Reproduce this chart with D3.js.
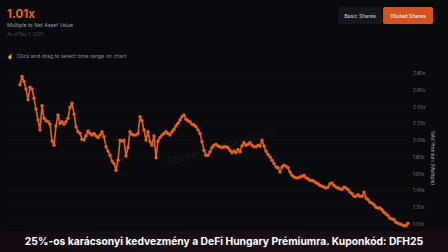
<!DOCTYPE html>
<html>
<head>
<meta charset="utf-8">
<script src="https://cdn.jsdelivr.net/npm/d3@7"></script>
<style>
  html, body { margin: 0; padding: 0; background: #0a0a0e; }
  svg { display: block; font-family: Inter, "Open Sans", sans-serif; }
</style>
</head>
<body>
<svg id="chart" width="448" height="252"></svg>
<script>
const width = 448;
const height = 252;

// NAV multiple, one point per step
const navMultiple = [
  2.66, 2.76, 2.70, 2.61, 2.48, 2.63, 2.61, 2.50, 2.37, 2.24,
  2.12, 2.41, 2.26, 2.23, 2.22, 2.19, 1.99, 1.94, 2.17, 2.30,
  2.20, 2.22, 2.19, 2.22, 2.26, 2.39, 2.44, 2.31, 2.16, 2.10,
  2.08, 2.01, 2.00, 2.05, 2.11, 2.08, 2.06, 2.08, 2.05, 2.03,
  2.06, 2.10, 2.04, 1.92, 1.87, 1.82, 1.75, 1.72, 1.64, 1.76,
  2.00, 1.99, 2.00, 1.81, 1.91, 2.10, 2.07, 2.06, 2.06, 2.08,
  2.28, 2.23, 2.12, 2.00, 2.10, 1.98, 1.94, 2.05, 1.79, 1.99,
  2.03, 2.06, 2.08, 2.10, 2.08, 2.06, 2.10, 2.13, 2.17, 2.20,
  2.24, 2.28, 2.30, 2.25, 2.23, 2.22, 2.19, 2.18, 2.16, 2.12,
  2.08, 1.98, 1.88, 1.82, 1.82, 1.86, 1.91, 1.94, 1.95, 1.93,
  1.92, 1.91, 1.92, 1.92, 1.91, 1.88, 1.85, 1.87, 1.85, 1.89,
  1.86, 1.93, 1.97, 1.94, 1.95, 1.97, 1.94, 1.92, 1.92, 1.94,
  1.93, 2.00, 1.93, 1.87, 1.83, 1.80, 1.76, 1.72, 1.68, 1.67,
  1.62, 1.68, 1.70, 1.69, 1.67, 1.62, 1.58, 1.56, 1.55, 1.55,
  1.56, 1.57, 1.58, 1.55, 1.54, 1.52, 1.52, 1.51, 1.49, 1.48,
  1.46, 1.45, 1.44, 1.43, 1.44, 1.48, 1.49, 1.46, 1.44, 1.43,
  1.42, 1.41, 1.44, 1.43, 1.41, 1.38, 1.36, 1.33, 1.33, 1.35,
  1.33, 1.33, 1.38, 1.31, 1.29, 1.26, 1.25, 1.23, 1.20, 1.19,
  1.19, 1.17, 1.14, 1.12, 1.10, 1.07, 1.06, 1.05, 1.02, 1.01,
  1.00, 0.99, 0.98, 0.98, 1.01
];

const yTicks = [1.0, 1.2, 1.4, 1.6, 1.8, 2.0, 2.2, 2.4, 2.6, 2.8];

const orange = "#e4621f";

const svg = d3.select("#chart");

svg.append("rect").attr("width", width).attr("height", height).attr("fill", "#0a0a0e");

const xScale = d3
  .scaleLinear()
  .domain([0, navMultiple.length - 1])
  .range([20, 408]);

const yScale = d3.scaleLinear().domain([1.0, 2.8]).range([224, 73]);

// faint grid
svg
  .append("g")
  .selectAll("line")
  .data(yTicks)
  .enter()
  .append("line")
  .attr("x1", 6)
  .attr("x2", 410)
  .attr("y1", (d) => yScale(d))
  .attr("y2", (d) => yScale(d))
  .attr("stroke", "#14141a")
  .attr("stroke-width", 0.5);

// watermark
svg
  .append("text")
  .attr("transform", "translate(222,150) rotate(-17)")
  .attr("text-anchor", "middle")
  .attr("font-size", 11.5)
  .attr("fill", "#ffffff")
  .attr("fill-opacity", 0.07)
  .text("StrategyTracker.com");

// header
svg.append("text").attr("x", 7).attr("y", 17.5).attr("font-size", 11.5)
  .attr("font-weight", 700).attr("fill", orange).text("1.01x");
svg.append("text").attr("x", 7).attr("y", 27).attr("font-size", 5.2)
  .attr("fill", "#9a9aa2").text("Multiple to Net Asset Value");
svg.append("text").attr("x", 7).attr("y", 35.5).attr("font-size", 4.4)
  .attr("fill", "#55555c").text("As of Dec 1, 2025");
svg.append("text").attr("x", 7).attr("y", 57.5).attr("font-size", 5)
  .attr("fill", "#8a8a92").text("\u261D");
svg.append("text").attr("x", 17).attr("y", 57.5).attr("font-size", 5.3)
  .attr("fill", "#8a8a92").text("Click and drag to select time range on chart");

// buttons
svg.append("rect").attr("x", 338).attr("y", 7).attr("width", 44).attr("height", 17)
  .attr("rx", 2).attr("fill", "#15151b");
svg.append("text").attr("x", 360).attr("y", 17.5).attr("text-anchor", "middle")
  .attr("font-size", 5.2).attr("fill", "#d0d0d6").text("Basic Shares");
svg.append("rect").attr("x", 383).attr("y", 7).attr("width", 50).attr("height", 17)
  .attr("rx", 2).attr("fill", "#d4531c");
svg.append("text").attr("x", 408).attr("y", 17.5).attr("text-anchor", "middle")
  .attr("font-size", 5.2).attr("fill", "#ffffff").text("Diluted Shares");

// right axis
const yAxis = d3
  .axisRight(yScale)
  .tickValues(yTicks)
  .tickSize(0)
  .tickPadding(3)
  .tickFormat((d) => d.toFixed(2) + "x");

const axisG = svg.append("g").attr("transform", "translate(410,0)").call(yAxis);
axisG.select(".domain").remove();
axisG.selectAll("text").attr("font-size", 4.6).attr("fill", "#77777e")
  .attr("font-family", "Inter, sans-serif");

svg.append("text")
  .attr("transform", "translate(431,158) rotate(90)")
  .attr("text-anchor", "middle")
  .attr("font-size", 4.8)
  .attr("fill", "#b0b0b8")
  .text("NAV Premium (Multiple)");

// line + markers
const line = d3
  .line()
  .x((d, i) => xScale(i))
  .y((d) => yScale(d));

svg.append("path")
  .datum(navMultiple)
  .attr("fill", "none")
  .attr("stroke", orange)
  .attr("stroke-width", 1.6)
  .attr("stroke-linejoin", "round")
  .attr("d", line);

svg.append("g")
  .selectAll("circle")
  .data(navMultiple)
  .enter()
  .append("circle")
  .attr("cx", (d, i) => xScale(i))
  .attr("cy", (d) => yScale(d))
  .attr("r", 1.7)
  .attr("fill", orange);

// bottom banner
const grad = svg.append("defs").append("linearGradient").attr("id", "bannerGrad")
  .attr("x1", 0).attr("x2", 1);
grad.append("stop").attr("offset", 0).attr("stop-color", "#120a10");
grad.append("stop").attr("offset", 0.5).attr("stop-color", "#1a0e16");
grad.append("stop").attr("offset", 1).attr("stop-color", "#160c14");

svg.append("rect").attr("x", 0).attr("y", 231).attr("width", width).attr("height", 21)
  .attr("fill", "url(#bannerGrad)");
svg.append("text")
  .attr("x", 224).attr("y", 245)
  .attr("text-anchor", "middle")
  .attr("font-size", 10.3)
  .attr("font-weight", 700)
  .attr("fill", "#ffffff")
  .text("25%-os karácsonyi kedvezmény a DeFi Hungary Prémiumra. Kuponkód: DFH25");
</script>
</body>
</html>
